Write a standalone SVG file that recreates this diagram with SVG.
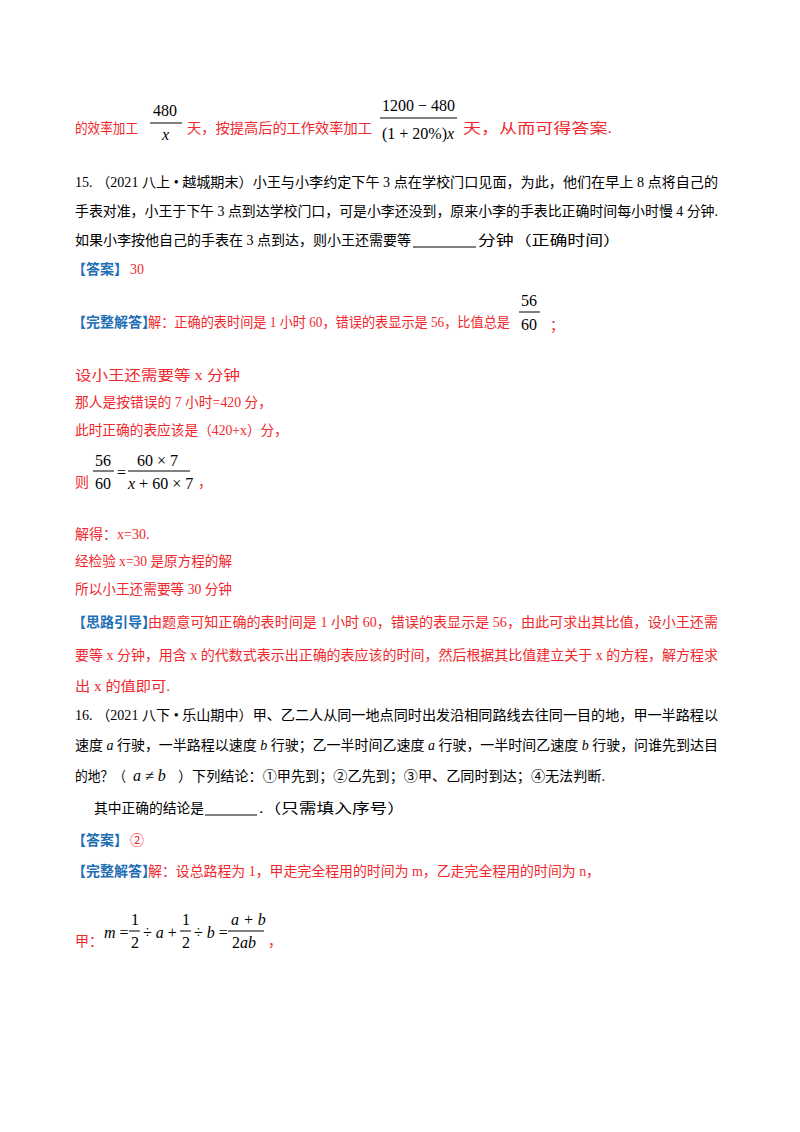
<svg xmlns="http://www.w3.org/2000/svg" width="800" height="1132" viewBox="0 0 800 1132">
<style>
text{font-family:"Liberation Serif","Noto Sans CJK SC",serif;font-size:14px;fill:#000}
.r{fill:#f0282d}
.b{fill:#1f6fb5;font-weight:bold;font-family:"Noto Sans CJK SC",sans-serif}
.m{font-family:"Liberation Serif",serif;font-size:16px}
.i{font-style:italic}
line{stroke:#000;stroke-width:1}
</style>
<rect width="800" height="1132" fill="#fff"/>
<g id="l1">
<text class="r" x="75" y="133" textLength="63" lengthAdjust="spacingAndGlyphs">的效率加工</text>
<text class="m" x="153" y="116">480</text><line x1="150" y1="123" x2="182" y2="123"/><text class="m i" x="162" y="140">x</text>
<text class="r" x="187" y="133" textLength="185" lengthAdjust="spacingAndGlyphs">天，按提高后的工作效率加工</text>
<text class="m" x="382" y="111">1200 − 480</text><line x1="380" y1="118" x2="457" y2="118"/><text class="m" x="382" y="139">(1 + 20%)<tspan class="i">x</tspan></text>
<text class="r" x="463" y="133" textLength="149" lengthAdjust="spacingAndGlyphs">天，从而可得答案.</text>
</g>
<g id="q15">
<text x="75" y="187" textLength="643" lengthAdjust="spacingAndGlyphs">15. （2021 八上 • 越城期末）小王与小李约定下午 3 点在学校门口见面，为此，他们在早上 8 点将自己的</text>
<text x="75" y="216" textLength="643" lengthAdjust="spacingAndGlyphs">手表对准，小王于下午 3 点到达学校门口，可是小李还没到，原来小李的手表比正确时间每小时慢 4 分钟.</text>
<text x="75" y="245" textLength="336" lengthAdjust="spacingAndGlyphs">如果小李按他自己的手表在 3 点到达，则小王还需要等</text>
<line x1="413" y1="247" x2="476" y2="247"/>
<text x="478" y="245" textLength="143" lengthAdjust="spacingAndGlyphs">分钟（正确时间）</text>
<text class="b" x="72" y="274">【答案】</text><text class="r" x="130" y="274">30</text>
<text class="b" x="72" y="327">【完整解答】</text>
<text class="r" x="148" y="327" textLength="362" lengthAdjust="spacingAndGlyphs">解：正确的表时间是 1 小时 60，错误的表显示是 56，比值总是</text>
<text class="m" x="521" y="306">56</text><line x1="519" y1="312" x2="540" y2="312"/><text class="m" x="521" y="330">60</text>
<text class="r" x="550" y="330">；</text>
<text class="r" x="75" y="380" textLength="165" lengthAdjust="spacingAndGlyphs">设小王还需要等 x 分钟</text>
<text class="r" x="75" y="407" textLength="197" lengthAdjust="spacingAndGlyphs">那人是按错误的 7 小时=420 分，</text>
<text class="r" x="75" y="435" textLength="213" lengthAdjust="spacingAndGlyphs">此时正确的表应该是（420+x）分，</text>
<text class="r" x="75" y="487">则</text>
<text class="m" x="95" y="466">56</text><line x1="93" y1="471" x2="114" y2="471"/><text class="m" x="95" y="489">60</text>
<text class="m" x="117" y="478">=</text>
<text class="m" x="137" y="466">60 × 7</text><line x1="128" y1="471" x2="190" y2="471"/><text class="m" x="128" y="489"><tspan class="i">x</tspan> + 60 × 7</text>
<text class="r" x="198" y="487">，</text>
<text class="r" x="75" y="539">解得：x=30.</text>
<text class="r" x="75" y="566" textLength="157" lengthAdjust="spacingAndGlyphs">经检验 x=30 是原方程的解</text>
<text class="r" x="75" y="594" textLength="157" lengthAdjust="spacingAndGlyphs">所以小王还需要等 30 分钟</text>
<text class="b" x="72" y="627">【思路引导】</text>
<text class="r" x="148" y="627" textLength="570" lengthAdjust="spacingAndGlyphs">由题意可知正确的表时间是 1 小时 60，错误的表显示是 56，由此可求出其比值，设小王还需</text>
<text class="r" x="75" y="660" textLength="643" lengthAdjust="spacingAndGlyphs">要等 x 分钟，用含 x 的代数式表示出正确的表应该的时间，然后根据其比值建立关于 x 的方程，解方程求</text>
<text class="r" x="75" y="691" textLength="95" lengthAdjust="spacingAndGlyphs">出 x 的值即可.</text>
</g>
<g id="q16">
<text x="75" y="720" textLength="643" lengthAdjust="spacingAndGlyphs">16. （2021 八下 • 乐山期中）甲、乙二人从同一地点同时出发沿相同路线去往同一目的地，甲一半路程以</text>
<text x="75" y="750" textLength="643" lengthAdjust="spacingAndGlyphs">速度 <tspan class="i">a</tspan> 行驶，一半路程以速度 <tspan class="i">b</tspan> 行驶；乙一半时间乙速度 <tspan class="i">a</tspan> 行驶，一半时间乙速度 <tspan class="i">b</tspan> 行驶，问谁先到达目</text>
<text x="75" y="781" textLength="51" lengthAdjust="spacingAndGlyphs">的地？（</text><text class="m i" x="133" y="781">a ≠ b</text>
<text x="178" y="781" textLength="427" lengthAdjust="spacingAndGlyphs">）下列结论：①甲先到；②乙先到；③甲、乙同时到达；④无法判断.</text>
<text x="94" y="813" textLength="110" lengthAdjust="spacingAndGlyphs">其中正确的结论是</text>
<line x1="205" y1="815" x2="257" y2="815"/>
<text x="259" y="813" textLength="146" lengthAdjust="spacingAndGlyphs">.（只需填入序号）</text>
<text class="b" x="72" y="845">【答案】</text><text class="r" x="130" y="845">②</text>
<text class="b" x="72" y="876">【完整解答】</text>
<text class="r" x="148" y="876" textLength="452" lengthAdjust="spacingAndGlyphs">解：设总路程为 1，甲走完全程用的时间为 m，乙走完全程用的时间为 n，</text>
<text class="r" x="75" y="946">甲：</text>
<text class="m" x="104" y="938"><tspan class="i">m</tspan> =</text>
<text class="m" x="131" y="925">1</text><line x1="129" y1="931" x2="140" y2="931"/><text class="m" x="131" y="948">2</text>
<text class="m" x="143" y="938">÷ <tspan class="i">a</tspan> +</text>
<text class="m" x="182" y="925">1</text><line x1="180" y1="931" x2="191" y2="931"/><text class="m" x="182" y="948">2</text>
<text class="m" x="194" y="938">÷ <tspan class="i">b</tspan> =</text>
<text class="m i" x="231" y="925">a + b</text><line x1="228" y1="931" x2="264" y2="931"/><text class="m" x="232" y="948">2<tspan class="i">ab</tspan></text>
<text class="r" x="268" y="946">，</text>
</g>
</svg>
